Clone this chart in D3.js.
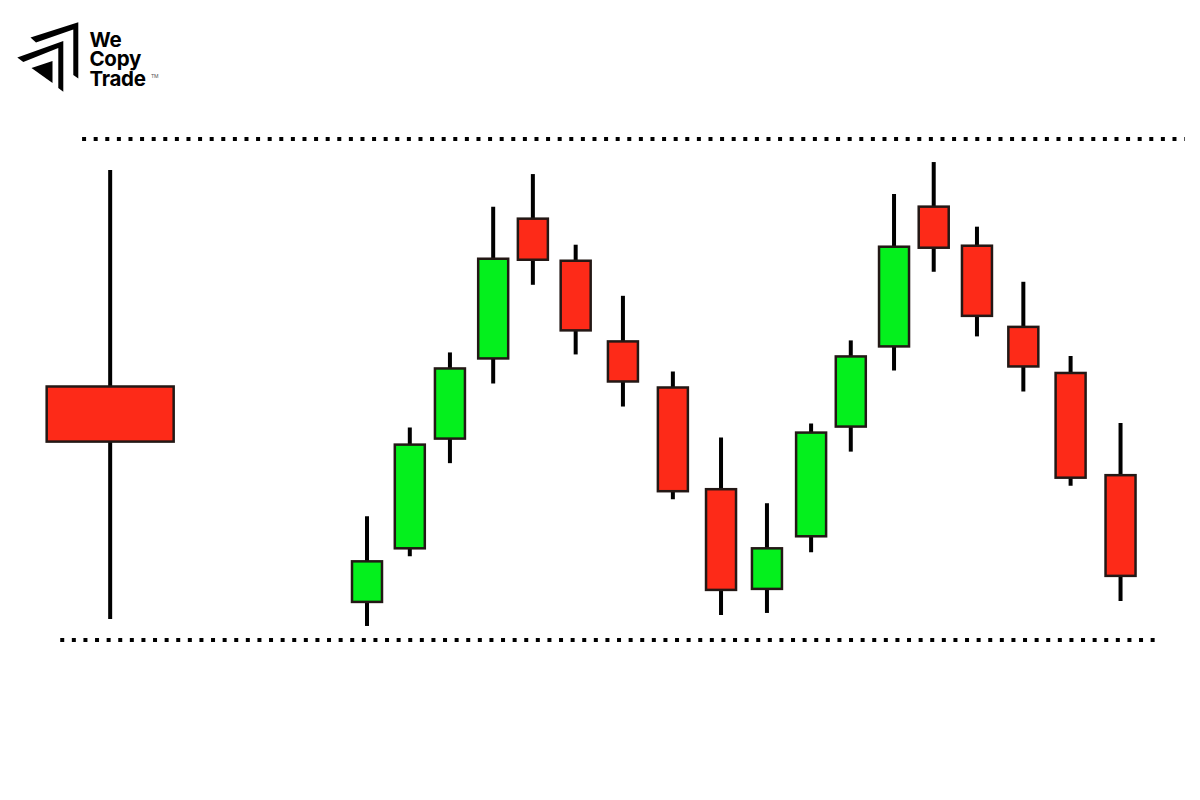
<!DOCTYPE html>
<html>
<head>
<meta charset="utf-8">
<script src="https://cdn.jsdelivr.net/npm/d3@7"></script>
<style>
  body { margin: 0; background: #fff; }
  svg { display: block; }
  .wick { stroke: #000; stroke-width: 4; }
  .body { stroke: #231815; stroke-width: 2.5; }
  .level { stroke: #000; stroke-width: 4; stroke-dasharray: 4 7.6; }
  .logo text { font-family: Inter, "Open Sans", sans-serif; font-weight: 700; font-size: 20.5px; fill: #000; letter-spacing: -0.3px; }
</style>
</head>
<body>
<div id="chart"></div>
<script>
// candle positions (session slots) and OHLC
var slots = [0, 0.96, 1.86, 2.83, 3.72, 4.68, 5.74, 6.86, 7.94, 8.97, 9.96, 10.85, 11.82, 12.71, 13.68, 14.72, 15.78, 16.9];
var opens  = [7.6, 18.3, 40.2, 56.2, 84.1, 75.7, 59.6, 50.4, 30.1, 10.2, 20.7, 42.6, 58.6, 86.5, 78.7, 62.5, 53.3, 32.9];
var closes = [15.7, 39.0, 54.2, 76.1, 75.9, 61.8, 51.6, 29.7, 10.0, 18.3, 41.4, 56.6, 78.5, 78.3, 64.7, 54.6, 32.4, 12.8];
var highs  = [24.7, 42.4, 57.4, 86.5, 93.0, 78.9, 68.7, 53.6, 40.4, 27.3, 43.2, 59.8, 89.0, 95.4, 82.5, 71.5, 56.7, 43.3];
var lows   = [2.8, 16.7, 35.3, 51.2, 70.9, 57.0, 46.6, 28.1, 5.0, 5.4, 17.5, 37.6, 53.8, 73.5, 60.6, 49.6, 30.8, 7.8];

// the single large candle on the left
var bigCandle = { slot: -5.76, open: 50.6, close: 39.6, high: 93.8, low: 4.2 };

// resistance / support levels (price, from slot, to slot)
var levelPrices = [100, 0];
var levelFrom = [-6.39, -6.88];
var levelTo = [18.34, 17.78];

var width = 1200, height = 800;
var green = '#04f01d', red = '#fd2a18';

var svg = d3.select('#chart').append('svg')
  .attr('width', width).attr('height', height);

var x = d3.scaleLinear().domain([0, 17]).range([367, 1125]);
var y = d3.scaleLinear().domain([0, 100]).range([640, 139]);

var candles = slots.map(function(s, i) {
  return { slot: s, open: opens[i], close: closes[i], high: highs[i], low: lows[i], w: 30 };
});
bigCandle.w = 127;
candles.unshift(bigCandle);

// dotted levels
svg.append('g').selectAll('line.level')
  .data(levelPrices)
  .enter().append('line').classed('level', true)
  .attr('x1', function(d, i) { return x(levelFrom[i]); })
  .attr('x2', function(d, i) { return x(levelTo[i]); })
  .attr('y1', function(d) { return y(d); })
  .attr('y2', function(d) { return y(d); });

var g = svg.append('g').selectAll('g.candle')
  .data(candles)
  .enter().append('g').classed('candle', true);

g.append('line').classed('wick', true)
  .attr('x1', function(d) { return x(d.slot); })
  .attr('x2', function(d) { return x(d.slot); })
  .attr('y1', function(d) { return y(d.high); })
  .attr('y2', function(d) { return y(d.low); });

g.append('rect').classed('body', true)
  .attr('x', function(d) { return x(d.slot) - d.w / 2; })
  .attr('width', function(d) { return d.w; })
  .attr('y', function(d) { return y(Math.max(d.open, d.close)); })
  .attr('height', function(d) { return Math.abs(y(d.open) - y(d.close)); })
  .attr('fill', function(d) { return d.close >= d.open ? green : red; });

// logo
var logo = svg.append('g').classed('logo', true);
logo.append('path')
  .attr('d', 'M30.5,37.5 L78.3,22.2 L78.3,78.5 L73.3,75 L73.3,29.5 L36,42.5 Z')
  .attr('fill', '#000');
logo.append('path')
  .attr('d', 'M17.3,57.5 L63.3,41 L63.3,91.7 L58.3,88 L58.3,48 L23.3,62 Z')
  .attr('fill', '#000');
logo.append('path')
  .attr('d', 'M31.5,68 L52.5,61 L52.5,83 Z')
  .attr('fill', '#000');
var words = ['We', 'Copy', 'Trade'];
logo.selectAll('text.word')
  .data(words)
  .enter().append('text').classed('word', true)
  .attr('x', 89.5)
  .attr('y', function(d, i) { return 46.5 + i * 19.7; })
  .text(function(d) { return d; });
logo.append('text')
  .attr('x', 151).attr('y', 78)
  .style('font-size', '5px')
  .style('font-weight', 400)
  .style('fill', '#555')
  .text('TM');
</script>
</body>
</html>
